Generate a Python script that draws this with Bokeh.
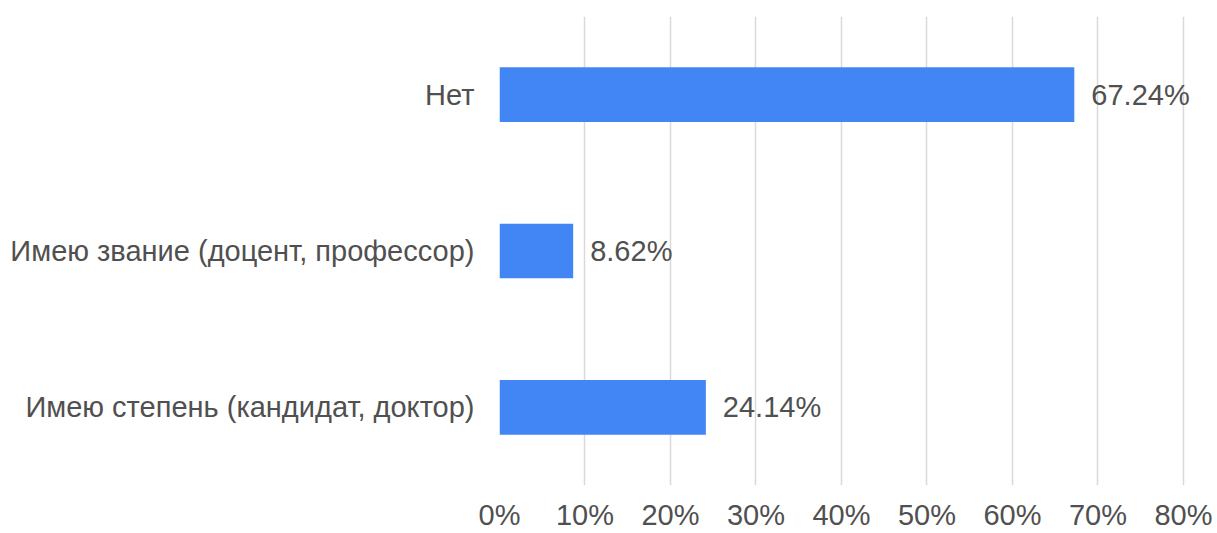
from bokeh.plotting import figure
from bokeh.models import Range1d, FactorRange, FixedTicker, ColumnDataSource, CustomJSTickFormatter, LabelSet
from bokeh.core.properties import value
from bokeh.embed import file_html
from bokeh.resources import INLINE

categories = ["Нет", "Имею звание (доцент, профессор)", "Имею степень (кандидат, доктор)"]
values = [67.24, 8.62, 24.14]
labels = ["67.24%", "8.62%", "24.14%"]
x_ticks = [0, 10, 20, 30, 40, 50, 60, 70, 80]

FONT = "Liberation Sans"
TEXT = "#505050"
FS = "29px"

src = ColumnDataSource(dict(cat=categories, val=values, lab=labels))

# x range extends a little past 80% so the value labels are not clipped
p = figure(width=1217, height=533, output_backend="svg", toolbar_location=None,
           y_range=FactorRange(*reversed(categories)), x_range=Range1d(0, 82))
p.min_border_left = 499
p.min_border_top = 16
p.min_border_right = 17
p.min_border_bottom = 46
p.outline_line_color = None

p.hbar(y="cat", right="val", left=0, height=0.35, source=src,
       fill_color="#4285F4", line_color=None)
p.add_layout(LabelSet(x="val", y="cat", text="lab", source=src, x_offset=17,
                      text_baseline="middle", text_align="left",
                      text_font=value(FONT), text_font_size=value(FS),
                      text_color=value(TEXT)))

p.xaxis.ticker = FixedTicker(ticks=x_ticks)
p.xaxis.formatter = CustomJSTickFormatter(code="return tick + '%';")
p.xaxis.axis_line_color = None
p.xaxis.major_tick_line_color = None
p.xaxis.major_tick_out = 0
p.xaxis.major_tick_in = 0
p.xaxis.minor_tick_line_color = None
p.xaxis.minor_tick_out = 0
p.xaxis.major_label_text_font = FONT
p.xaxis.major_label_text_font_size = FS
p.xaxis.major_label_text_color = TEXT
p.xaxis.major_label_standoff = 13

p.yaxis.axis_line_color = None
p.yaxis.major_tick_line_color = None
p.yaxis.major_tick_out = 0
p.yaxis.major_tick_in = 0
p.yaxis.minor_tick_line_color = None
p.yaxis.major_label_text_font = FONT
p.yaxis.major_label_text_font_size = FS
p.yaxis.major_label_text_color = TEXT
p.yaxis.major_label_standoff = 25

p.ygrid.grid_line_color = None
p.xgrid.ticker = FixedTicker(ticks=x_ticks)
p.xgrid.grid_line_color = "#d9d9d9"
p.xgrid.grid_line_width = 1.5

open("out.html", "w").write(file_html(p, INLINE))
